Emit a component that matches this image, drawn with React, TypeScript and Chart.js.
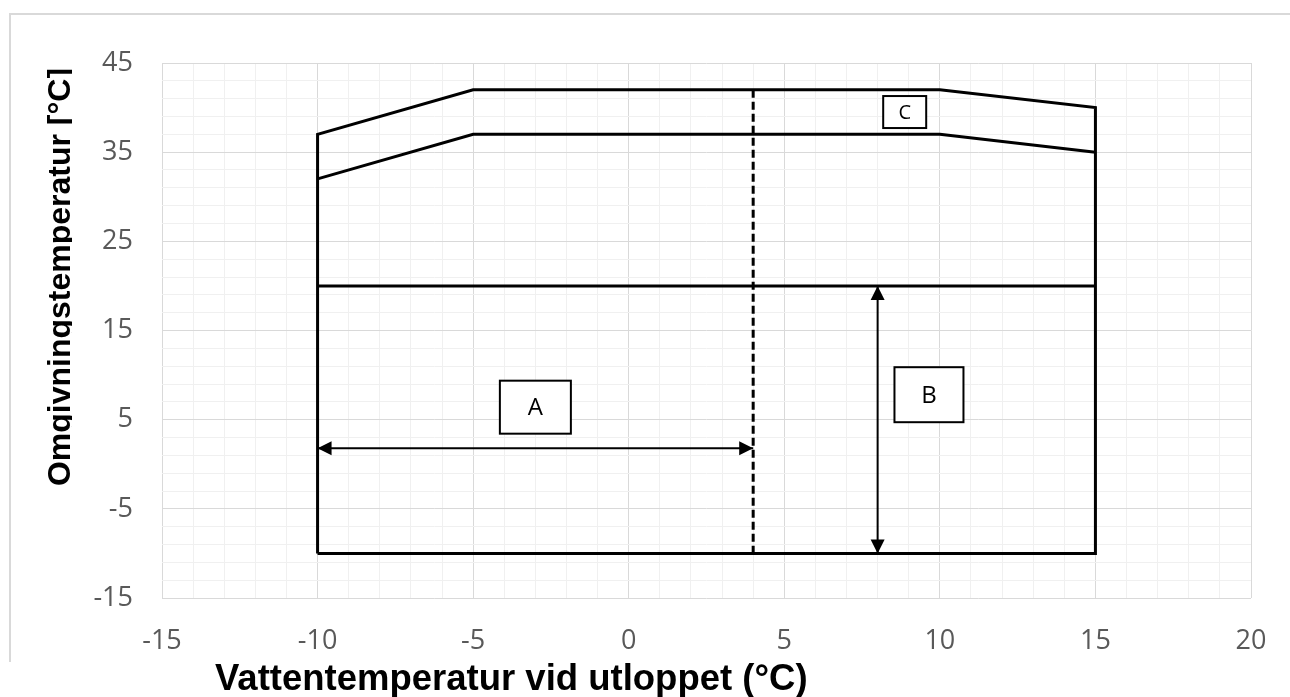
import React, { useEffect, useRef } from 'react';
import { Chart, registerables } from 'chart.js';

Chart.register(...registerables);

// ---- data (axis units: °C) ----
const outlineX = [-10, -10, -5, 10, 15, 15, -10];
const outlineY = [-10, 37, 42, 42, 40, -10, -10];
const innerX = [-10, -5, 10, 15];
const innerY = [32, 37, 37, 35];
const midX = [-10, 15];
const midY = [20, 20];
const limitX = [4, 4];
const limitY = [42, -10];
const arrowAX = [-10, 4];
const arrowAY = [1.8, 1.8];
const arrowBX = [8, 8];
const arrowBY = [20, -10];
const boxLabels = ['A', 'B', 'C'];
const boxX = [-3, 9.65, 8.87];
const boxY = [6.4, 7.8, 39.5];
const xMin = -15;
const xMax = 20;
const yMin = -15;
const yMax = 45;
const xTitle = 'Vattentemperatur vid utloppet (°C)';
const yTitle = 'Omgivningstemperatur [°C]';

const pts = (xs: number[], ys: number[]) => xs.map((x, i) => ({ x, y: ys[i] }));

const annotationPlugin = {
  id: 'annotations',
  afterDatasetsDraw(chart: any) {
    const ctx = chart.ctx;
    const xs = chart.scales.x;
    const ys = chart.scales.y;
    chart.data.datasets.forEach((ds: any, i: number) => {
      if (!ds.arrow) return;
      const meta = chart.getDatasetMeta(i);
      const p0 = meta.data[0];
      const p1 = meta.data[meta.data.length - 1];
      const head = (tip: any, from: any) => {
        const ang = Math.atan2(tip.y - from.y, tip.x - from.x);
        const L = 14, W = 7;
        ctx.save();
        ctx.translate(tip.x, tip.y);
        ctx.rotate(ang);
        ctx.beginPath();
        ctx.moveTo(0, 0);
        ctx.lineTo(-L, -W);
        ctx.lineTo(-L, W);
        ctx.closePath();
        ctx.fillStyle = '#000';
        ctx.fill();
        ctx.restore();
      };
      head(p0, p1);
      head(p1, p0);
    });
    const sizes = [[71, 53], [69, 55], [43, 32]];
    const fonts = [24, 24, 20];
    boxLabels.forEach((lab, i) => {
      const cx = xs.getPixelForValue(boxX[i]);
      const cy = ys.getPixelForValue(boxY[i]);
      const [w, h] = sizes[i];
      ctx.save();
      ctx.fillStyle = '#fff';
      ctx.fillRect(cx - w / 2, cy - h / 2, w, h);
      ctx.lineWidth = 2;
      ctx.strokeStyle = '#000';
      ctx.strokeRect(cx - w / 2, cy - h / 2, w, h);
      ctx.fillStyle = '#000';
      ctx.font = `${fonts[i]}px "Open Sans"`;
      ctx.textAlign = 'center';
      ctx.textBaseline = 'middle';
      ctx.fillText(lab, cx, cy + 1);
      ctx.restore();
    });
  },
  afterDraw(chart: any) {
    const ctx = chart.ctx;
    ctx.save();
    ctx.strokeStyle = '#d9d9d9';
    ctx.lineWidth = 2;
    ctx.beginPath();
    ctx.moveTo(1290, 14);
    ctx.lineTo(10, 14);
    ctx.lineTo(10, 662);
    ctx.stroke();
    ctx.fillStyle = '#000';
    ctx.font = 'bold 36.5px "Liberation Sans", Arial, sans-serif';
    ctx.textAlign = 'left';
    ctx.textBaseline = 'alphabetic';
    ctx.fillText(xTitle, 215, 690);
    ctx.save();
    ctx.beginPath();
    ctx.rect(0, 0, 72, 697);
    ctx.clip();
    ctx.translate(70, 277);
    ctx.rotate(-Math.PI / 2);
    ctx.font = 'bold 32px "Liberation Sans", Arial, sans-serif';
    ctx.textAlign = 'center';
    ctx.fillText(yTitle, 0, 0);
    ctx.restore();
    ctx.restore();
  },
};

export default function App() {
  const ref = useRef<HTMLCanvasElement>(null);
  useEffect(() => {
    if (!ref.current) return;
    const line = (data: any, extra: any = {}) => ({
      data,
      showLine: true,
      borderColor: '#000',
      backgroundColor: '#000',
      borderWidth: 3,
      pointRadius: 0,
      pointHoverRadius: 0,
      fill: false,
      tension: 0,
      ...extra,
    });
    const chart = new Chart(ref.current, {
      type: 'scatter',
      data: {
        datasets: [
          line(pts(outlineX, outlineY)),
          line(pts(innerX, innerY)),
          line(pts(midX, midY)),
          line(pts(limitX, limitY), { borderDash: [8, 4] }),
          line(pts(arrowAX, arrowAY), { borderWidth: 2, arrow: true }),
          line(pts(arrowBX, arrowBY), { borderWidth: 2, arrow: true }),
        ] as any,
      },
      options: {
        animation: false,
        responsive: false,
        events: [],
        layout: { padding: { left: 0, right: 39, top: 63, bottom: 0 } },
        plugins: { legend: { display: false }, tooltip: { enabled: false } },
        scales: {
          x: {
            type: 'linear',
            min: xMin,
            max: xMax,
            border: { display: false },
            grid: {
              drawTicks: false,
              lineWidth: 1,
              color: (c: any) => (c.tick && (c.tick.value - xMin) % 5 === 0 ? '#d9d9d9' : '#f0f0f0'),
            },
            ticks: {
              stepSize: 1,
              autoSkip: false,
              maxRotation: 0,
              minRotation: 0,
              padding: 27,
              color: '#595959',
              font: { family: '"Open Sans"', size: 27 },
              callback: (v: any) => ((v - xMin) % 5 === 0 ? String(v) : ''),
            },
            afterFit: (s: any) => { s.height = 99; s.paddingLeft = 0; s.paddingRight = 0; },
          },
          y: {
            type: 'linear',
            min: yMin,
            max: yMax,
            border: { display: false },
            grid: {
              drawTicks: false,
              lineWidth: 1,
              color: (c: any) => (c.tick && (c.tick.value - yMin) % 10 === 0 ? '#d9d9d9' : '#f0f0f0'),
            },
            ticks: {
              stepSize: 2,
              autoSkip: false,
              padding: 29,
              color: '#595959',
              font: { family: '"Open Sans"', size: 27 },
              callback: (v: any) => ((v - yMin) % 10 === 0 ? String(v) : ''),
            },
            afterFit: (s: any) => { s.width = 162; s.paddingTop = 0; s.paddingBottom = 0; },
          },
        },
      } as any,
      plugins: [annotationPlugin],
    });
    return () => chart.destroy();
  }, []);
  return (
    <div style={{ position: 'absolute', left: 0, top: 0, width: 1290, height: 697, background: '#fff' }}>
      <canvas ref={ref} width={1290} height={697} style={{ display: 'block' }} />
    </div>
  );
}
